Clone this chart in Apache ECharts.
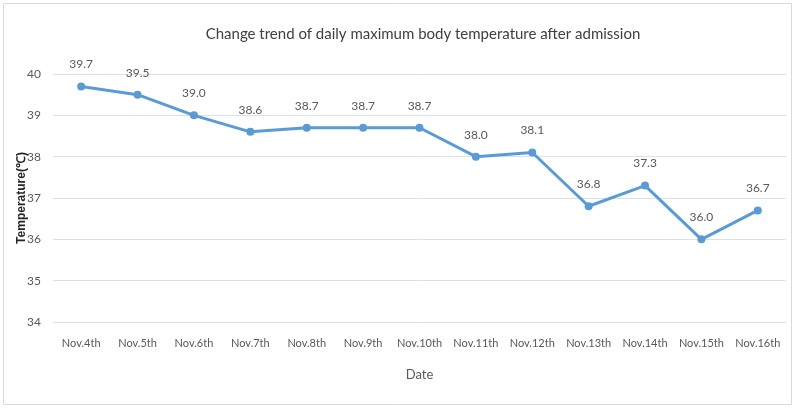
<!DOCTYPE html>
<html><head><meta charset="utf-8">
<script src="https://cdn.jsdelivr.net/npm/echarts@6/dist/echarts.min.js"></script>
<style>html,body{margin:0;padding:0;background:#fff}#c{width:800px;height:409px}</style>
</head><body><div id="c"></div>
<script>
const categories = ["Nov.4th","Nov.5th","Nov.6th","Nov.7th","Nov.8th","Nov.9th","Nov.10th","Nov.11th","Nov.12th","Nov.13th","Nov.14th","Nov.15th","Nov.16th"];
const temperatures = [39.7,39.5,39.0,38.6,38.7,38.7,38.7,38.0,38.1,36.8,37.3,36.0,36.7];
const titleText = "Change trend of daily maximum body temperature after admission";
const yName = "Temperature(\u2103)";
const xName = "Date";

const chart = echarts.init(document.getElementById('c'), null, {renderer:'canvas'});
const narrow = "Lato, 'Open Sans', sans-serif";
chart.setOption({
  animation:false,
  backgroundColor:'#fff',
  graphic:[{type:'rect',shape:{x:3.5,y:3.5,width:788,height:401},style:{fill:'none',stroke:'#d9d9d9',lineWidth:1}}],
  title:{text:titleText,left:418,textAlign:'center',top:22,textStyle:{fontFamily:narrow,fontSize:15,fontWeight:'normal',color:'#404040'}},
  grid:{left:53,right:14,top:74,bottom:87},
  xAxis:{type:'category',data:categories,boundaryGap:true,name:xName,nameLocation:'middle',nameGap:46,
    nameTextStyle:{fontFamily:narrow,fontSize:13,color:'#595959'},
    axisLine:{show:false},axisTick:{show:false},
    axisLabel:{interval:0,fontFamily:narrow,fontSize:11,color:'#595959',margin:16}},
  yAxis:{type:'value',min:34,max:40,interval:1,name:yName,nameLocation:'middle',nameGap:25,nameMoveOverlap:false,
    nameTextStyle:{fontFamily:"'Liberation Sans', sans-serif",fontSize:12,fontWeight:'bold',color:'#262626'},
    axisLine:{show:false},axisTick:{show:false},
    axisLabel:{fontFamily:narrow,fontSize:12,color:'#595959',margin:12}},
  series:[{type:'line',data:temperatures,symbol:'circle',symbolSize:8,
    lineStyle:{color:'#5b9bd5',width:3},itemStyle:{color:'#5b9bd5'},
    label:{show:true,position:'top',distance:12,formatter:p=>p.value.toFixed(1),fontFamily:narrow,fontSize:12,color:'#595959'}}]
});
chart.setOption({yAxis:{splitLine:{lineStyle:{color:'#d9e1ea',width:1}}}});
</script></body></html>
